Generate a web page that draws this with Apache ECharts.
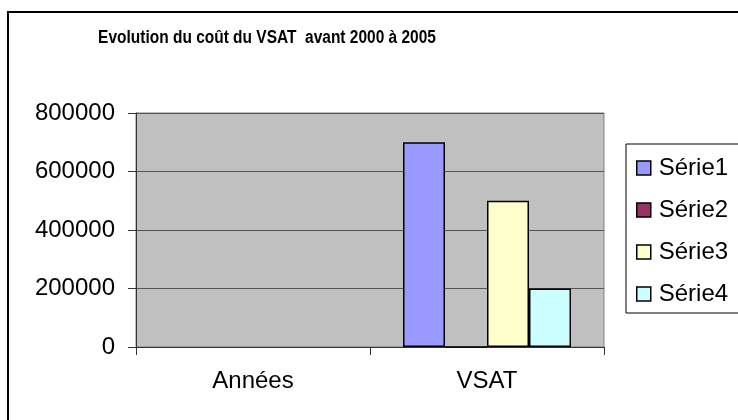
<!DOCTYPE html>
<html>
<head>
<meta charset="utf-8">
<script src="https://cdn.jsdelivr.net/npm/echarts@6/dist/echarts.min.js"></script>
<style>
  html, body { margin: 0; padding: 0; background: #fff; }
  #main { width: 738px; height: 420px; }
</style>
</head>
<body>
<div id="main"></div>
<script>
const categories = ['Années', 'VSAT'];
const seriesNames = ['Série1', 'Série2', 'Série3', 'Série4'];
const serie1 = [null, 700000];
const serie2 = [null, 0];
const serie3 = [null, 500000];
const serie4 = [null, 200000];
const colors = ['#9999ff', '#993366', '#ffffcc', '#ccffff'];
const yTicks = { min: 0, max: 800000, interval: 200000 };

const font = "'Liberation Sans', Arial, sans-serif";
const chart = echarts.init(document.getElementById('main'));

const allValues = [serie1, serie2, serie3, serie4];

chart.setOption({
  animation: false,
  graphic: [{
    type: 'rect',
    shape: { x: 8, y: 12, width: 800, height: 500 },
    style: { fill: 'none', stroke: '#000', lineWidth: 2 },
    silent: true,
    z: -1
  }, {
    // titre (police étroite simulée par scaleX)
    type: 'text',
    x: 267,
    y: 38,
    originX: 0,
    scaleX: 0.86,
    style: {
      text: 'Evolution du coût du VSAT  avant 2000 à 2005',
      font: "bold 18px 'Liberation Sans', Arial, sans-serif",
      fill: '#000',
      textAlign: 'center',
      textVerticalAlign: 'middle'
    },
    silent: true
  }],
  legend: {
    orient: 'vertical',
    left: 626,
    top: 144,
    padding: [12, 40, 7, 10],
    itemGap: 18,
    itemWidth: 14,
    itemHeight: 14,
    borderColor: '#000',
    borderWidth: 1,
    backgroundColor: '#fff',
    textStyle: { fontFamily: font, fontSize: 24, color: '#000', padding: [0, 0, 0, 3] },
    data: seriesNames.map((n, i) => ({
      name: n,
      icon: 'rect',
      itemStyle: { color: colors[i], borderColor: '#000', borderWidth: 1.5 }
    }))
  },
  grid: {
    left: 136,
    right: 134,
    top: 113,
    bottom: 73,
    show: true,
    backgroundColor: '#c0c0c0',
    borderColor: '#808080',
    borderWidth: 1
  },
  xAxis: {
    type: 'category',
    data: categories,
    axisLine: { lineStyle: { color: '#333', width: 1 } },
    axisTick: { show: true, length: 8, lineStyle: { color: '#333' } },
    axisLabel: { fontFamily: font, fontSize: 24, color: '#000', margin: 22 }
  },
  yAxis: {
    type: 'value',
    min: yTicks.min,
    max: yTicks.max,
    interval: yTicks.interval,
    axisLine: { show: true, lineStyle: { color: '#333', width: 1 } },
    axisTick: { show: true, length: 8, lineStyle: { color: '#333' } },
    axisLabel: {
      fontFamily: font, fontSize: 24, color: '#000', margin: 21,
      formatter: v => String(v)
    },
    splitLine: { lineStyle: { color: '#555', width: 1 } }
  },
  series: seriesNames.map((n, i) => ({
    name: n,
    type: 'bar',
    data: allValues[i],
    barWidth: 42,
    barGap: '0%',
    itemStyle: { color: colors[i], borderColor: '#000', borderWidth: 1.5 }
  }))
});
</script>
</body>
</html>
